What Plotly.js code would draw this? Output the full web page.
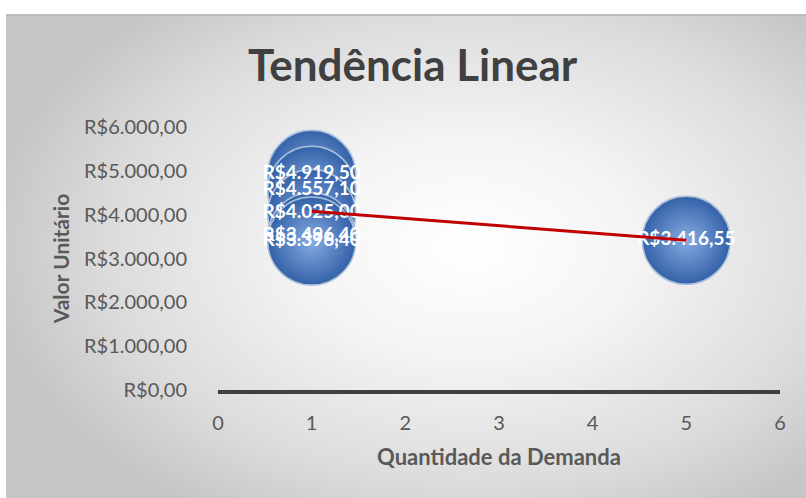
<!DOCTYPE html>
<html>
<head>
<meta charset="utf-8">
<script src="https://cdn.plot.ly/plotly-3.0.1.min.js"></script>
<style>
  html, body { margin:0; padding:0; background:#ffffff; width:806px; height:498px; overflow:hidden; }
  #bg { position:absolute; left:6px; top:14px; width:800px; height:484px;
        background: radial-gradient(ellipse 60% 65% at 58% 48%, #ffffff 0%, #f4f4f4 35%, #dcdcdc 75%, #c6c6c6 100%);
        border-top:2px solid #bdbdbd; box-sizing:border-box; }
  #chart { position:absolute; left:0; top:0; width:806px; height:498px; }
</style>
</head>
<body>
<div id="bg"></div>
<div id="chart"></div>
<script>
// Data
const quantidade = [1, 1, 1, 1, 1, 5];
const valorUnitario = [4919.50, 4557.10, 4025.00, 3496.40, 3396.40, 3416.55];
const xTicks = [0, 1, 2, 3, 4, 5, 6];
const yTicks = [0, 1000, 2000, 3000, 4000, 5000, 6000];

function brl(v) {
  const parts = v.toFixed(2).split('.');
  const intPart = parts[0].replace(/\B(?=(\d{3})+(?!\d))/g, '.');
  return 'R$' + intPart + ',' + parts[1];
}

// Linear trendline (least squares) computed from the data
const n = quantidade.length;
const mx = quantidade.reduce((a, b) => a + b, 0) / n;
const my = valorUnitario.reduce((a, b) => a + b, 0) / n;
let sxy = 0, sxx = 0;
for (let i = 0; i < n; i++) {
  sxy += (quantidade[i] - mx) * (valorUnitario[i] - my);
  sxx += (quantidade[i] - mx) ** 2;
}
const slope = sxy / sxx;
const intercept = my - slope * mx;
const trendX = [Math.min(...quantidade), Math.max(...quantidade)];
const trendY = trendX.map(x => intercept + slope * x);

const FONT = 'Lato, "Open Sans", sans-serif';

const bubbles = {
  x: quantidade,
  y: valorUnitario,
  type: 'scatter',
  mode: 'markers+text',
  text: valorUnitario.map(brl),
  textposition: 'middle center',
  textfont: { family: FONT, size: 19, color: '#ffffff', weight: 'bold' },
  marker: {
    size: 88,
    color: '#3462a8',
    gradient: { type: 'radial', color: '#86ace3' },
    line: { color: '#a9bfdc', width: 1.5 },
    opacity: 1
  },
  hoverinfo: 'skip',
  cliponaxis: false,
  showlegend: false
};

const trend = {
  x: trendX,
  y: trendY,
  type: 'scatter',
  mode: 'lines',
  line: { color: '#c00000', width: 3 },
  hoverinfo: 'skip',
  cliponaxis: false,
  showlegend: false
};

const tickFont = { family: FONT, size: 20, color: '#595959' };

const layout = {
  width: 806,
  height: 498,
  margin: { l: 218, r: 26, t: 127, b: 108 },
  paper_bgcolor: 'rgba(0,0,0,0)',
  plot_bgcolor: 'rgba(0,0,0,0)',
  title: {
    text: '<b>Tendência Linear</b>',
    font: { family: FONT, size: 44, color: '#404040' },
    x: 0.512, xref: 'container', xanchor: 'center',
    y: 1 - 66 / 498, yref: 'container', yanchor: 'middle'
  },
  xaxis: {
    range: [0, 6],
    tickvals: xTicks,
    ticktext: xTicks.map(String),
    tickfont: tickFont,
    showgrid: false,
    zeroline: false,
    showline: true,
    linecolor: '#404040',
    linewidth: 4,
    ticks: 'outside',
    ticklen: 12,
    tickcolor: 'rgba(0,0,0,0)',
    title: {
      text: '<b>Quantidade da Demanda</b>',
      font: { family: FONT, size: 22, color: '#595959' },
      standoff: 18
    },
    fixedrange: true
  },
  yaxis: {
    range: [0, 6000],
    tickvals: yTicks,
    ticktext: yTicks.map(brl),
    tickfont: tickFont,
    showgrid: false,
    zeroline: false,
    showline: false,
    ticks: 'outside',
    ticklen: 26,
    tickcolor: 'rgba(0,0,0,0)',
    title: {
      text: '<b>Valor Unitário</b>',
      font: { family: FONT, size: 21, color: '#595959' },
      standoff: 8
    },
    fixedrange: true
  },
  showlegend: false,
  hovermode: false
};

Plotly.newPlot('chart', [bubbles, trend], layout, { displayModeBar: false, staticPlot: true });
</script>
</body>
</html>
